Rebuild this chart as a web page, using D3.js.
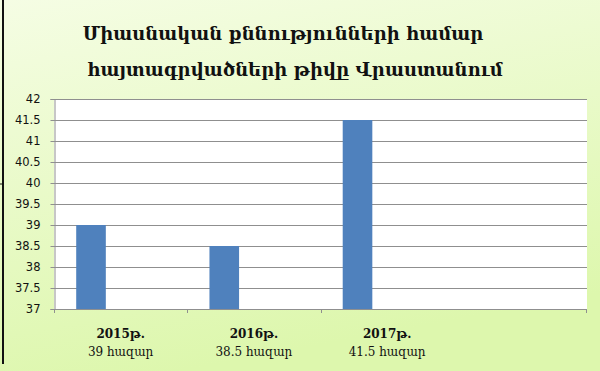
<!DOCTYPE html>
<html>
<head>
<meta charset="utf-8">
<script src="https://cdn.jsdelivr.net/npm/d3@7"></script>
<style>
  body { margin: 0; padding: 0; }
  svg { display: block; }
</style>
</head>
<body>
<div id="chart"></div>
<script>
// data
var years = ["2015թ.", "2016թ.", "2017թ.", ""];
var amounts = ["39 հազար", "38.5 հազար", "41.5 հազար", ""];
var values = [39, 38.5, 41.5, null];
var series = ["s1", "s2", "s3"];   // only the first one has values
var yTicks = [37, 37.5, 38, 38.5, 39, 39.5, 40, 40.5, 41, 41.5, 42];
var titleLines = ["Միասնական քննությունների համար", "հայտագրվածների թիվը Վրաստանում"];

var W = 600, H = 371;
var margin = { top: 99, right: 13, bottom: 62, left: 54 },
    width = W - margin.left - margin.right,
    height = H - margin.top - margin.bottom;

var svg = d3.select("#chart")
    .append("svg")
    .attr("width", W)
    .attr("height", H);

// background gradient
var grad = svg.append("defs").append("linearGradient")
    .attr("id", "bg").attr("x1", "0").attr("y1", "0").attr("x2", "0.3").attr("y2", "1");
grad.append("stop").attr("offset", "0%").attr("stop-color", "#f5fde4");
grad.append("stop").attr("offset", "100%").attr("stop-color", "#ddf7ad");

svg.append("rect").attr("width", W).attr("height", H).attr("fill", "url(#bg)");

// left frame line
svg.append("line")
    .attr("x1", 3).attr("x2", 3).attr("y1", 0).attr("y2", 364)
    .attr("stroke", "#111").attr("stroke-width", 2);
svg.append("line")
    .attr("x1", 0).attr("x2", 4).attr("y1", 184).attr("y2", 184)
    .attr("stroke", "#111").attr("stroke-width", 1);

// title
svg.selectAll(".title")
    .data(titleLines)
    .enter()
    .append("text")
    .attr("class", "title")
    .attr("x", function (d, i) { return i == 0 ? 283 : 295 })
    .attr("y", function (d, i) { return 40 + i * 36 })
    .attr("text-anchor", "middle")
    .attr("font-family", "DejaVu Serif")
    .attr("font-weight", "bold")
    .attr("font-size", "18px")
    .attr("fill", "#111")
    .text(function (d) { return d });

var g = svg.append("g")
    .attr("transform", "translate(" + margin.left + "," + margin.top + ")");

// scales
var x = d3.scaleBand()
    .domain(d3.range(years.length))
    .range([0, width])
    .paddingInner(0).paddingOuter(0);

// 3 series, gap width 150%
var x1 = d3.scaleBand()
    .domain(series)
    .range([0, x.bandwidth()])
    .paddingInner(0)
    .paddingOuter(0.75);

var y = d3.scaleLinear()
    .domain([37, 42])
    .range([height, 0]);

// plot area
g.append("rect")
    .attr("width", width).attr("height", height)
    .attr("fill", "#ffffff");

// gridlines
g.selectAll(".grid")
    .data(yTicks)
    .enter()
    .append("line")
    .attr("x1", 0).attr("x2", width)
    .attr("y1", function (d) { return Math.round(y(d)) + 0.5 })
    .attr("y2", function (d) { return Math.round(y(d)) + 0.5 })
    .attr("stroke", "#8f8f8f")
    .attr("stroke-width", 1);

// bars
g.selectAll(".bar")
    .data(values.map(function (v, i) { return { i: i, v: v } }).filter(function (d) { return d.v != null }))
    .enter()
    .append("rect")
    .attr("x", function (d) { return x(d.i) + x1("s1") })
    .attr("width", x1.bandwidth())
    .attr("y", function (d) { return y(d.v) })
    .attr("height", function (d) { return height - y(d.v) })
    .attr("fill", "#4f81bd");

// y axis
var yAxis = g.append("g")
    .attr("transform", "translate(0.5,0)")
    .call(d3.axisLeft(y).tickValues(yTicks).tickSize(4).tickPadding(10)
        .tickFormat(function (d) { return d }));
yAxis.select(".domain").attr("stroke", "#8f8f8f");
yAxis.selectAll(".tick line").attr("stroke", "#8f8f8f");
yAxis.selectAll("text")
    .attr("font-family", "DejaVu Sans")
    .attr("font-size", "11.5px")
    .attr("fill", "#111");

// x axis line and ticks at category boundaries
g.append("line")
    .attr("x1", 0).attr("x2", width)
    .attr("y1", height + 0.5).attr("y2", height + 0.5)
    .attr("stroke", "#8f8f8f");
var bounds = [0, 1, 2, 4];
g.selectAll(".xtick")
    .data(bounds)
    .enter()
    .append("line")
    .attr("x1", function (d) { return d < years.length ? Math.round(x(d)) + 0.5 : width - 0.5 })
    .attr("x2", function (d) { return d < years.length ? Math.round(x(d)) + 0.5 : width - 0.5 })
    .attr("y1", height).attr("y2", height + 4)
    .attr("stroke", "#8f8f8f");

// category labels
g.selectAll(".year")
    .data(years)
    .enter()
    .append("text")
    .attr("x", function (d, i) { return x(i) + x.bandwidth() / 2 })
    .attr("y", height + 29)
    .attr("text-anchor", "middle")
    .attr("font-family", "DejaVu Serif")
    .attr("font-weight", "bold")
    .attr("font-size", "12px")
    .attr("fill", "#111")
    .text(function (d) { return d });

g.selectAll(".amount")
    .data(amounts)
    .enter()
    .append("text")
    .attr("x", function (d, i) { return x(i) + x.bandwidth() / 2 })
    .attr("y", height + 47)
    .attr("text-anchor", "middle")
    .attr("font-family", "DejaVu Serif")
    .attr("font-size", "12px")
    .attr("fill", "#111")
    .text(function (d) { return d });
</script>
</body>
</html>
